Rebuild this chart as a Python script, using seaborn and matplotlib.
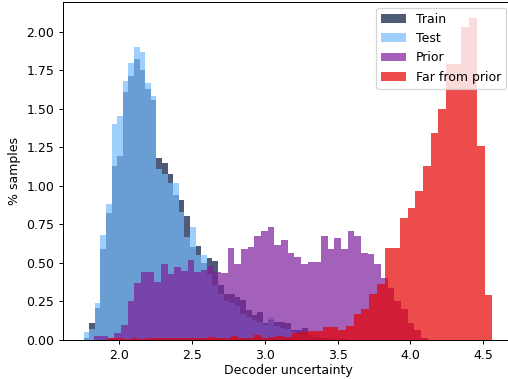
import numpy as np
import pandas as pd
import matplotlib.pyplot as plt
import seaborn as sns

# bar heights (% samples), 50 bins per series
train = [0.01, 0.108, 0.21, 0.59, 0.822, 1.13, 1.195, 1.61, 1.71, 1.82,
         1.75, 1.63, 1.56, 1.18, 1.15, 1.08, 0.94, 0.908, 0.806, 0.605,
         0.61, 0.497, 0.53, 0.51, 0.357, 0.30, 0.30, 0.28, 0.26, 0.195,
         0.162, 0.184, 0.108, 0.13, 0.119, 0.119, 0.108, 0.065, 0.065, 0.08,
         0.03, 0.02, 0.015, 0.01, 0.008, 0.005, 0.005, 0.003, 0.002, 0.002]
test = [0.054, 0.071, 0.238, 0.681, 0.88, 1.40, 1.453, 1.68, 1.80, 1.90,
        1.87, 1.67, 1.58, 1.11, 1.08, 1.016, 1.016, 0.83, 0.666, 0.735,
        0.55, 0.55, 0.43, 0.357, 0.30, 0.25, 0.24, 0.22, 0.17, 0.15,
        0.13, 0.12, 0.10, 0.151, 0.09, 0.08, 0.07, 0.05, 0.04, 0.03,
        0.02, 0.015, 0.01, 0.008, 0.005, 0.004, 0.003, 0.002, 0.001, 0.001]
prior = [0.026, 0.026, 0.012, 0.047, 0.097, 0.255, 0.372, 0.443, 0.443, 0.378,
         0.493, 0.430, 0.473, 0.449, 0.519, 0.443, 0.454, 0.48, 0.44, 0.436,
         0.60, 0.493, 0.588, 0.605, 0.676, 0.707, 0.735, 0.616, 0.648, 0.562,
         0.54, 0.493, 0.506, 0.506, 0.676, 0.59, 0.66, 0.59, 0.707, 0.676,
         0.566, 0.556, 0.493, 0.404, 0.335, 0.255, 0.199, 0.108, 0.065, 0.012]
far = [0.015, 0.01, 0.008, 0.01, 0.008, 0.01, 0.01, 0.01, 0.01, 0.012,
       0.01, 0.01, 0.015, 0.02, 0.012, 0.015, 0.025, 0.012, 0.015, 0.03,
       0.015, 0.02, 0.026, 0.02, 0.043, 0.054, 0.06, 0.06, 0.086, 0.086,
       0.065, 0.093, 0.169, 0.199, 0.296, 0.363, 0.60, 0.60, 0.789, 0.854,
       0.966, 1.13, 1.34, 1.50, 1.79, 1.79, 2.03, 2.09, 1.26, 0.292]

# value range covered by each histogram
train_range = (1.7555, 3.678)
test_range = (1.7555, 3.678)
prior_range = (1.8283, 4.118)
far_range = (1.9196, 4.5618)

labels = ['Train', 'Test', 'Prior', 'Far from prior']
colors = ['xkcd:navy', 'xkcd:sky blue', 'xkcd:purple', 'xkcd:red']

DPI = 90
fig = plt.figure(figsize=(508 / DPI, 379 / DPI), dpi=DPI)
ax = fig.add_axes([0.1244, 0.1029, 0.8848, 0.8926])

series = [(train, train_range), (test, test_range), (prior, prior_range), (far, far_range)]
for (h, (lo, hi)), lab, c in zip(series, labels, colors):
    n = len(h)
    edges = np.linspace(lo, hi, n + 1)
    df = pd.DataFrame({'x': (edges[:-1] + edges[1:]) / 2, 'w': h})
    sns.histplot(data=df, x='x', weights='w', bins=n, binrange=(lo, hi),
                 color=c, alpha=0.7, linewidth=0, edgecolor='none',
                 label=lab, ax=ax)

ax.set_xlabel('Decoder uncertainty', labelpad=2)
ax.set_ylabel('% samples')
ax.legend(loc='upper right')

fig.savefig('out.png', dpi=DPI)
